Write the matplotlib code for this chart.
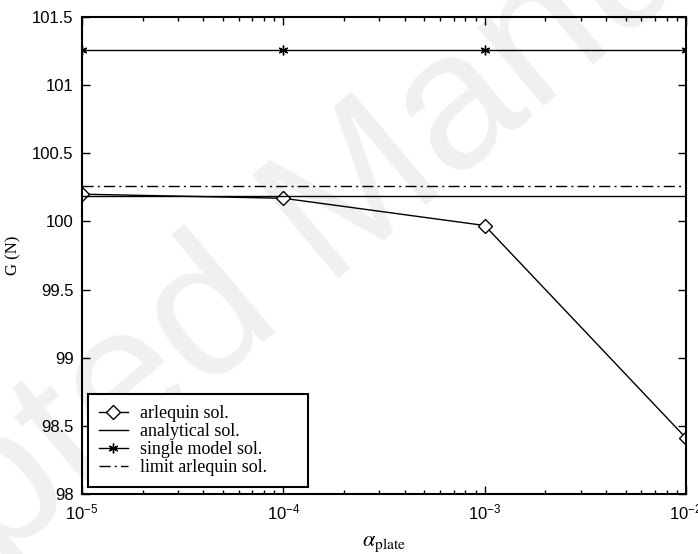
import numpy as np
import matplotlib
matplotlib.use("Agg")
import matplotlib.pyplot as plt
from matplotlib.ticker import FixedLocator, LogLocator, NullFormatter

# data
alpha = [1e-5, 1e-4, 1e-3, 1e-2]
arlequin = [100.20, 100.17, 99.97, 98.41]
analytical = [100.19, 100.19, 100.19, 100.19]
single_model = [101.26, 101.26, 101.26, 101.26]
limit_arlequin = [100.26, 100.26, 100.26, 100.26]
yticks = [98, 98.5, 99, 99.5, 100, 100.5, 101, 101.5]
ytick_labels = ["98", "98.5", "99", "99.5", "100", "100.5", "101", "101.5"]
xtick_labels = [r"$\mathregular{10^{-5}}$", r"$\mathregular{10^{-4}}$",
                r"$\mathregular{10^{-3}}$", r"$\mathregular{10^{-2}}$"]

plt.rcParams['mathtext.fontset'] = 'stix'
plt.rcParams['font.family'] = ['Liberation Sans', 'DejaVu Sans']

fig = plt.figure(figsize=(6.98, 5.54), dpi=100)
# faint watermark behind the plot
fig.text(0.47, 0.60, "Accepted Manuscript", fontsize=140, color='#f0f0f0',
         rotation=40, ha='center', va='center', family='Liberation Sans', zorder=0)

ax = fig.add_axes([0.1175, 0.1083, 0.8655, 0.8610])
ax.set_facecolor('none')
ax.set_zorder(1)

ax.plot(alpha, arlequin, color='k', lw=1.0, marker='D', markersize=7,
        markerfacecolor='white', markeredgecolor='k', markeredgewidth=1.0,
        label='arlequin sol.')
ax.plot(alpha, analytical, color='k', lw=1.0, label='analytical sol.')
ax.plot(alpha, single_model, color='k', lw=1.0, marker=(6, 2, 0), markersize=7,
        markeredgewidth=1.0, label='single model sol.')
ax.plot(alpha, limit_arlequin, color='k', lw=1.0, dashes=(8, 3, 1.5, 3),
        label='limit arlequin sol.')

ax.set_xscale('log')
ax.set_xlim(1e-5, 1e-2)
ax.set_ylim(98, 101.5)
ax.xaxis.set_major_locator(FixedLocator(alpha))
ax.set_xticklabels(xtick_labels)
ax.xaxis.set_minor_locator(LogLocator(base=10, subs=np.arange(2, 10)))
ax.xaxis.set_minor_formatter(NullFormatter())
ax.set_yticks(yticks)
ax.set_yticklabels(ytick_labels)

ax.tick_params(which='both', direction='in', top=True, right=True, labelsize=12,
               pad=6, width=1.0)
ax.tick_params(which='major', length=6)
ax.tick_params(which='minor', length=3)
for sp in ax.spines.values():
    sp.set_linewidth(1.5)

ax.set_xlabel(r"$\alpha_{\mathrm{plate}}$", fontsize=16, labelpad=8)
ax.set_ylabel("G (N)", fontsize=12, family='Liberation Serif', labelpad=8)

leg = ax.legend(loc='lower left', bbox_to_anchor=(0.01, 0.015, 0.364, 0.2),
                mode='expand', borderaxespad=0, handlelength=1.6,
                prop={'family': 'Liberation Serif', 'size': 13},
                fancybox=False, framealpha=1,
                labelspacing=0.05, handletextpad=0.7, borderpad=0.6)
leg.get_frame().set_edgecolor('k')
leg.get_frame().set_linewidth(1.5)

fig.savefig('out.png', dpi=100)
